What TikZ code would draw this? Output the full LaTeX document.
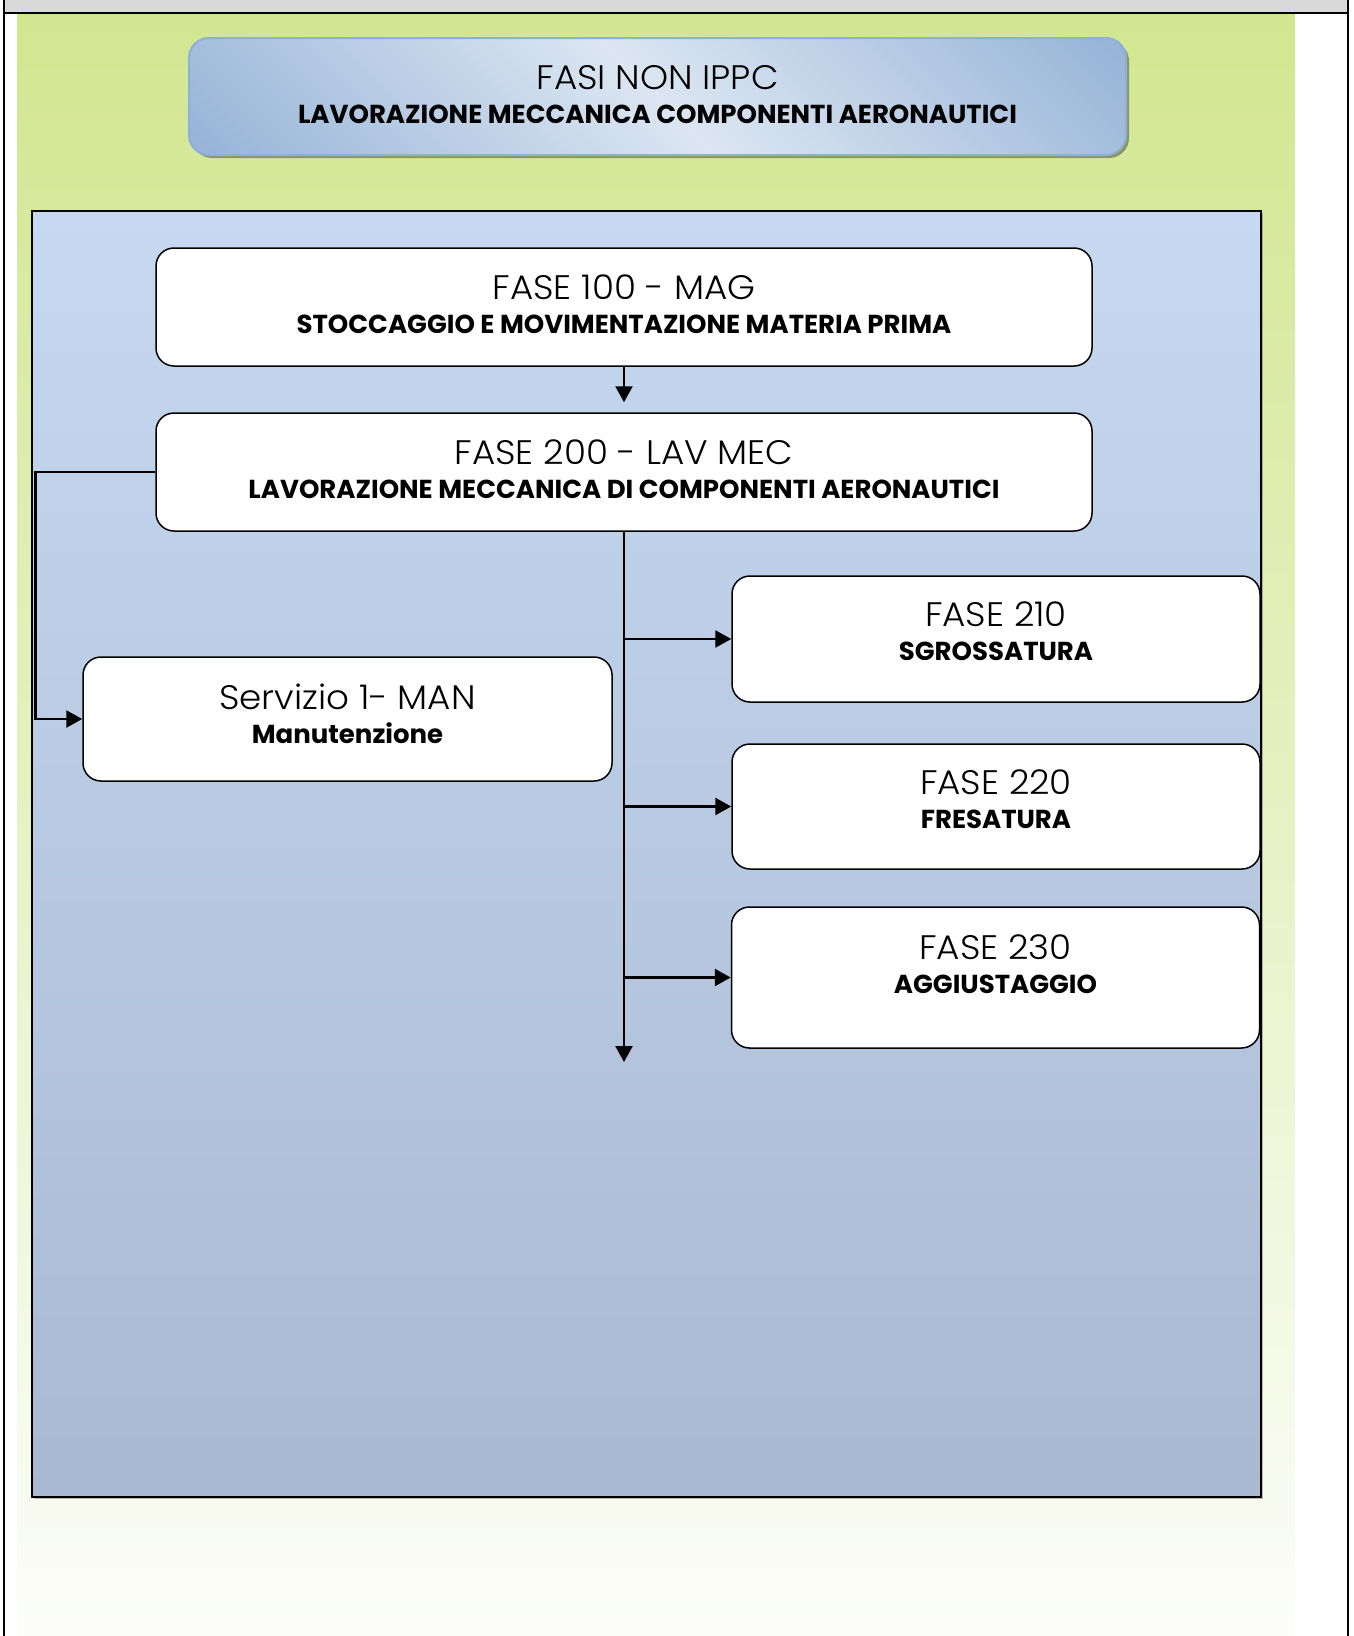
\documentclass[tikz,border=0pt]{standalone}
\usepackage{fontspec}
\setmainfont{Poppins}
\IfFontExistsTF{Poppins Light}{\newfontfamily\thinfont{Poppins Light}[FakeStretch=1.05]}{%
  \IfFontExistsTF{Poppins-Light}{\newfontfamily\thinfont{Poppins-Light}[FakeStretch=1.05]}{%
    \IfFontExistsTF{Poppins ExtraLight}{\newfontfamily\thinfont{Poppins ExtraLight}[FakeStretch=1.05]}{\newfontfamily\thinfont{Poppins}[FakeStretch=1.05]}}}
\usepackage{tikz}
\usetikzlibrary{arrows,arrows.meta,positioning,calc,shadows}
\definecolor{bandgray}{HTML}{D9D9D9}
\definecolor{greentop}{HTML}{D2E690}
\definecolor{greenbot}{HTML}{FCFDF9}
\definecolor{paneltop}{HTML}{C6D9F0}
\definecolor{panelbot}{HTML}{A9B9D2}
\definecolor{titlelight}{HTML}{DCE6F2}
\definecolor{titledark}{HTML}{95B3D7}
\definecolor{titleline}{HTML}{8DB0DA}
\pgfdeclareverticalshading{titleshade}{100bp}{color(0bp)=(titledark); color(14.6bp)=(titledark); color(50bp)=(titlelight); color(85.4bp)=(titledark); color(100bp)=(titledark)}
\tikzstyle{fasebox}=[draw,fill=white,rounded corners=18pt,line width=1.5pt]
\tikzstyle{fasetext}=[align=center,inner sep=0pt,font=\fontsize{26}{34}\selectfont\bfseries]
\tikzstyle{conn}=[line width=2.5pt,-{Triangle[length=16pt,width=17pt]}]
\newcommand{\fasename}[1]{{\thinfont\mdseries\fontsize{34}{34}\selectfont #1}}

\begin{document}
\begin{tikzpicture}[x=1pt,y=-1pt]
\useasboundingbox (0,0) rectangle (1354,1636);
\fill[bandgray] (4,0) rectangle (1348,12.5);
\fill[top color=greentop,bottom color=greenbot] (17,13) rectangle (1295,1636);
\draw[line width=2.5pt] (4,0) -- (4,1636);
\draw[line width=2.5pt] (1348,0) -- (1348,1636);
\draw[line width=2pt] (4,12.5) -- (1348,12.5);

\node[draw=titleline,line width=2pt,rounded corners=20pt,shading=titleshade,shading angle=-45,minimum width=937,minimum height=117,drop shadow={shadow xshift=3pt,shadow yshift=-3pt,fill=black,opacity=0.35}] (title) at (657.5,96.5) {};
\node[fasetext,below=28pt of title.north] (titletext) {\fasename{FASI NON IPPC}\\LAVORAZIONE MECCANICA COMPONENTI AERONAUTICI};

\path[draw,line width=2pt,top color=paneltop,bottom color=panelbot,drop shadow={shadow xshift=2pt,shadow yshift=-2pt,fill=black,opacity=0.25}] (32,211) rectangle (1261,1497);

\node[fasebox,minimum width=936,minimum height=118] (f100) at (624,307) {};
\node[fasetext,below=27pt of f100.north] (t100) {\fasename{FASE 100 - MAG}\\STOCCAGGIO E MOVIMENTAZIONE MATERIA PRIMA};
\node[fasebox,minimum width=936,minimum height=118] (f200) at (624,472) {};
\node[fasetext,below=27pt of f200.north] (t200) {\fasename{FASE 200 - LAV MEC}\\LAVORAZIONE MECCANICA DI COMPONENTI AERONAUTICI};
\node[fasebox,minimum width=529,minimum height=124] (man) at (347.5,719) {};
\node[fasetext,below=27pt of man.north] (tman) {\fasename{Servizio 1- MAN}\\Manutenzione};
\node[fasebox,minimum width=528,minimum height=126] (f210) at (996,639) {};
\node[fasetext,below=26pt of f210.north] (t210) {\fasename{FASE 210}\\SGROSSATURA};
\node[fasebox,minimum width=528,minimum height=125] (f220) at (996,806.5) {};
\node[fasetext,below=26pt of f220.north] (t220) {\fasename{FASE 220}\\FRESATURA};
\node[fasebox,minimum width=528,minimum height=141] (f230) at (995.5,977.5) {};
\node[fasetext,below=28pt of f230.north] (t230) {\fasename{FASE 230}\\AGGIUSTAGGIO};
\coordinate (fine) at (624,1062);

\draw[conn,shorten >=10pt] (f100) -- (f200);
\draw[conn] (f200.west) -- ++(-120,0) |- (man.west);
\draw[conn] (f200.south) -- (fine);
\draw[conn] (f200.south |- f210.west) -- (f210.west);
\draw[conn] (f200.south |- f220.west) -- (f220.west);
\draw[conn] (f200.south |- f230.west) -- (f230.west);
\end{tikzpicture}
\end{document}
